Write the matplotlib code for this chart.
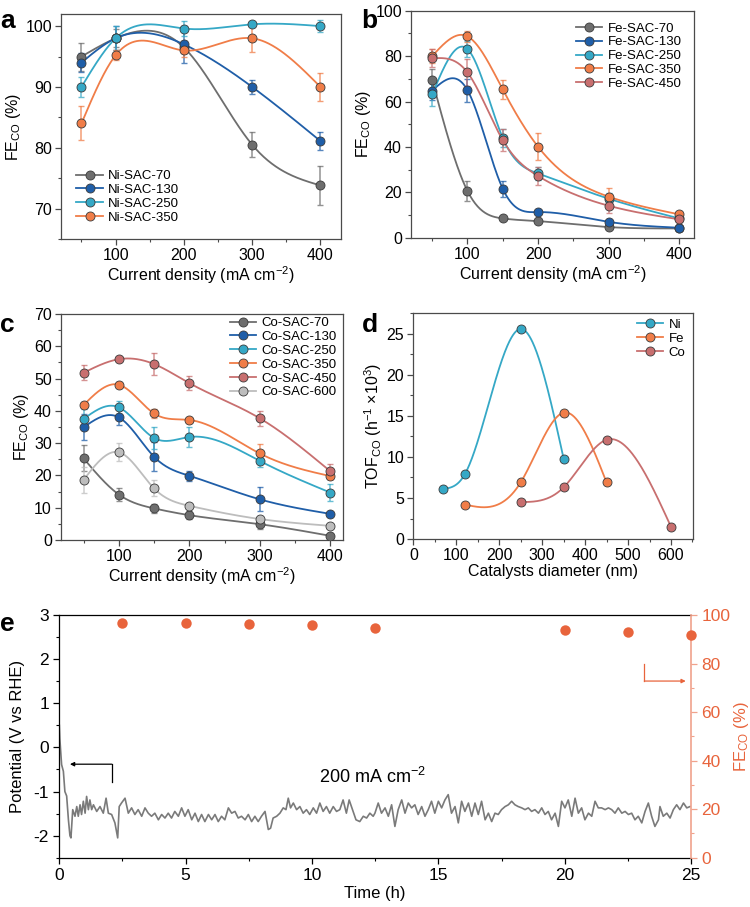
import numpy as np
import matplotlib
matplotlib.use('Agg')
import matplotlib.pyplot as plt
from matplotlib.lines import Line2D
from matplotlib.ticker import MultipleLocator

plt.rcParams['font.family'] = ['Liberation Sans', 'DejaVu Sans']
plt.rcParams['mathtext.fontset'] = 'custom'
plt.rcParams['mathtext.rm'] = 'Liberation Sans'
plt.rcParams['mathtext.it'] = 'Liberation Sans:italic'
plt.rcParams['axes.unicode_minus'] = False
plt.rcParams['font.size'] = 10

# ---------------- data ----------------
j_ni = [50, 100, 200, 300, 400]
ni_labels = ['Ni-SAC-70', 'Ni-SAC-130', 'Ni-SAC-250', 'Ni-SAC-350']
ni_fe = [[95.0, 98.0, 96.5, 80.5, 73.8],
         [94.0, 98.0, 97.0, 90.0, 81.1],
         [90.0, 98.0, 99.6, 100.3, 100.0],
         [84.0, 95.2, 96.0, 98.0, 90.0]]
ni_err = [[2.3, 1.5, 1.0, 2.1, 3.2],
          [1.5, 2.0, 3.0, 1.2, 1.5],
          [1.6, 2.0, 1.2, 0.3, 1.0],
          [2.8, 0.8, 1.0, 2.3, 2.3]]

j_fe = [50, 100, 150, 200, 300, 400]
fe_labels = ['Fe-SAC-70', 'Fe-SAC-130', 'Fe-SAC-250', 'Fe-SAC-350', 'Fe-SAC-450']
fe_fe = [[69.5, 20.6, 8.5, 7.3, 4.7, 4.1],
         [64.8, 65.0, 21.6, 11.3, 7.0, 4.4],
         [63.1, 83.1, 44.0, 28.3, 17.2, 8.5],
         [80.0, 88.7, 65.3, 40.1, 18.1, 10.3],
         [79.0, 72.8, 43.0, 27.2, 14.1, 8.1]]
fe_err = [[5.0, 4.5, 0.6, 0.6, 0.5, 0.5],
          [4.0, 5.0, 3.5, 1.0, 0.8, 0.5],
          [5.0, 3.5, 4.0, 3.0, 2.5, 1.0],
          [3.0, 2.5, 4.0, 6.0, 4.0, 1.0],
          [4.0, 6.0, 5.0, 4.0, 3.0, 1.0]]

j_co = [50, 100, 150, 200, 300, 400]
co_labels = ['Co-SAC-70', 'Co-SAC-130', 'Co-SAC-250', 'Co-SAC-350', 'Co-SAC-450', 'Co-SAC-600']
co_fe = [[25.3, 14.1, 9.8, 7.7, 4.9, 1.3],
         [34.9, 38.0, 25.8, 19.9, 12.6, 8.1],
         [37.5, 41.1, 31.6, 31.9, 24.5, 14.7],
         [41.8, 48.1, 39.2, 37.2, 26.8, 19.8],
         [51.8, 56.0, 54.5, 48.6, 37.7, 21.3],
         [18.6, 27.2, 16.0, 10.6, 6.5, 4.4]]
co_err = [[4.0, 2.0, 1.5, 1.2, 1.5, 0.8],
          [4.0, 2.5, 4.5, 1.5, 3.7, 0.6],
          [3.0, 2.0, 3.5, 3.2, 2.0, 2.7],
          [0.8, 0.7, 1.5, 0.5, 2.8, 1.0],
          [2.3, 0.5, 3.5, 2.2, 2.3, 2.3],
          [3.9, 2.8, 2.5, 1.0, 0.8, 0.5]]

d_ni = [70, 120, 250, 350]
tof_ni = [6.1, 7.9, 25.6, 9.8]
d_fe = [120, 250, 350, 450]
tof_fe = [4.2, 6.9, 15.4, 6.9]
d_co = [250, 350, 450, 600]
tof_co = [4.5, 6.3, 12.1, 1.5]

t_fe = [2.5, 5, 7.5, 10, 12.5, 20, 22.5, 25]
fe_stab = [96.8, 96.8, 96.4, 95.9, 94.8, 93.9, 93.0, 91.9]

t_pot = [0.0, 0.02, 0.09, 0.16, 0.22, 0.29, 0.36, 0.42, 0.46, 0.53, 0.62, 0.69, 0.75,
         0.82, 0.88, 0.95, 1.02, 1.08, 1.15, 1.21, 1.28, 1.35, 1.48, 1.61, 1.74, 1.85,
         1.94, 2.07, 2.2, 2.31, 2.37, 2.46, 2.6, 2.73, 2.86, 2.99, 3.12, 3.26, 3.39,
         3.52, 3.65, 3.78, 3.92, 4.05, 4.18, 4.31, 4.44, 4.57, 4.71, 4.84, 4.97, 5.1,
         5.24, 5.37, 5.5, 5.63, 5.76, 5.9, 6.03, 6.16, 6.29, 6.42, 6.55, 6.69, 6.82,
         6.95, 7.08, 7.21, 7.35, 7.48, 7.61, 7.74, 7.87, 8.0, 8.14, 8.27, 8.36, 8.46,
         8.6, 8.73, 8.86, 8.97, 9.06, 9.15, 9.26, 9.39, 9.52, 9.65, 9.78, 9.91, 10.05,
         10.18, 10.31, 10.44, 10.57, 10.7, 10.84, 10.97, 11.1, 11.23, 11.36, 11.47,
         11.6, 11.74, 11.89, 12.03, 12.16, 12.29, 12.42, 12.49, 12.62, 12.75, 12.89,
         13.02, 13.15, 13.28, 13.41, 13.55, 13.68, 13.81, 13.94, 14.07, 14.2, 14.34,
         14.47, 14.6, 14.73, 14.86, 15.0, 15.13, 15.26, 15.39, 15.52, 15.66, 15.79,
         15.92, 16.05, 16.19, 16.32, 16.45, 16.58, 16.71, 16.85, 16.98, 17.11, 17.24,
         17.37, 17.5, 17.64, 17.77, 17.9, 18.03, 18.16, 18.3, 18.43, 18.56, 18.69,
         18.82, 18.96, 19.09, 19.22, 19.35, 19.48, 19.62, 19.75, 19.88, 20.01, 20.14,
         20.28, 20.41, 20.54, 20.67, 20.8, 20.94, 21.07, 21.2, 21.33, 21.46, 21.6,
         21.73, 21.86, 21.99, 22.12, 22.26, 22.39, 22.52, 22.65, 22.78, 22.91, 23.05,
         23.18, 23.31, 23.44, 23.57, 23.71, 23.77, 23.9, 24.04, 24.17, 24.3, 24.43,
         24.56, 24.7, 24.83, 24.96]
pot = [0.5, 0.2, -0.39, -0.54, -1.0, -1.1, -1.64, -2.0, -2.05, -1.41, -1.56, -1.34, -1.56,
       -1.3, -1.52, -1.22, -1.49, -1.11, -1.41, -1.19, -1.41, -1.3, -1.45, -1.34, -1.49,
       -1.15, -1.49, -1.52, -1.71, -2.05, -1.34, -1.26, -1.15, -1.49, -1.37, -1.52, -1.41,
       -1.56, -1.37, -1.49, -1.56, -1.49, -1.64, -1.52, -1.6, -1.49, -1.6, -1.45, -1.56,
       -1.37, -1.56, -1.41, -1.64, -1.49, -1.68, -1.52, -1.68, -1.52, -1.64, -1.52, -1.68,
       -1.56, -1.64, -1.37, -1.49, -1.45, -1.6, -1.56, -1.64, -1.52, -1.68, -1.56, -1.68,
       -1.56, -1.45, -1.86, -1.83, -1.6, -1.56, -1.49, -1.37, -1.41, -1.15, -1.37, -1.26,
       -1.41, -1.34, -1.49, -1.41, -1.52, -1.37, -1.49, -1.26, -1.45, -1.34, -1.49, -1.34,
       -1.45, -1.41, -1.19, -1.49, -1.19, -1.41, -1.64, -1.68, -1.56, -1.6, -1.49, -1.56,
       -1.49, -1.26, -1.49, -1.37, -1.56, -1.3, -1.79, -1.41, -1.19, -1.49, -1.26, -1.37,
       -1.3, -1.52, -1.34, -1.56, -1.41, -1.22, -1.49, -1.22, -1.37, -1.19, -1.07, -1.49,
       -1.34, -1.71, -1.22, -1.45, -1.26, -1.56, -1.26, -1.52, -1.22, -1.64, -1.49, -1.68,
       -1.49, -1.52, -1.41, -1.34, -1.3, -1.22, -1.3, -1.34, -1.37, -1.41, -1.37, -1.45,
       -1.41, -1.49, -1.37, -1.52, -1.45, -1.64, -1.49, -1.79, -1.22, -1.37, -1.19, -1.56,
       -1.15, -1.49, -1.37, -1.64, -1.49, -1.56, -1.22, -1.37, -1.37, -1.41, -1.37, -1.41,
       -1.49, -1.37, -1.49, -1.45, -1.52, -1.49, -1.64, -1.56, -1.71, -1.45, -1.26, -1.56,
       -1.79, -1.64, -1.34, -1.56, -1.49, -1.6, -1.41, -1.3, -1.41, -1.26, -1.37, -1.34]

# ---------------- style ----------------
c_gray = '#6e6e6e'
c_blue = '#1f5ea8'
c_cyan = '#35a8c6'
c_orange = '#f07d48'
c_pink = '#c86f6f'
c_lgray = '#bdbdbd'
c_fe = '#e8643c'
edge = '#3a3a3a'
frame = '#4a4a4a'


def smooth(x, y, num=300):
    # natural cubic spline through the points (curve style of the original)
    x = np.asarray(x, float)
    y = np.asarray(y, float)
    n = len(x)
    h = np.diff(x)
    A = np.zeros((n, n))
    r = np.zeros(n)
    A[0, 0] = A[-1, -1] = 1
    for i in range(1, n - 1):
        A[i, i - 1] = h[i - 1]
        A[i, i] = 2 * (h[i - 1] + h[i])
        A[i, i + 1] = h[i]
        r[i] = 6 * ((y[i + 1] - y[i]) / h[i] - (y[i] - y[i - 1]) / h[i - 1])
    M = np.linalg.solve(A, r)
    xs = np.linspace(x[0], x[-1], num)
    k = np.clip(np.searchsorted(x, xs) - 1, 0, n - 2)
    hh = x[k + 1] - x[k]
    a = (x[k + 1] - xs) / hh
    b = (xs - x[k]) / hh
    ys = a * y[k] + b * y[k + 1] + ((a ** 3 - a) * M[k] + (b ** 3 - b) * M[k + 1]) * hh ** 2 / 6
    return xs, ys


def style_box(ax):
    for s in ax.spines.values():
        s.set_color(frame)
        s.set_linewidth(0.9)
    ax.tick_params(which='both', direction='out', color=frame, labelsize=11.5,
                   top=False, right=False, pad=2.5)
    ax.tick_params(which='major', length=4, width=0.9)
    ax.tick_params(which='minor', length=2.2, width=0.8)


def series(ax, x, y, err, color, label):
    xs, ys = smooth(x, y)
    ax.plot(xs, ys, color=color, lw=1.3, zorder=2)
    if err is not None:
        ax.errorbar(x, y, yerr=err, fmt='none', ecolor=color, alpha=0.75,
                    elinewidth=1.1, capsize=2.3, capthick=1.0, zorder=3)
    ax.plot(x, y, 'o', ms=6.5, mfc=color, mec=edge, mew=0.6, zorder=4)
    return Line2D([], [], color=color, lw=1.3, marker='o', ms=6.5, mfc=color,
                  mec=edge, mew=0.6, label=label)


def add_legend(ax, handles, **kw):
    ax.legend(handles=handles, frameon=False, fontsize=9.5, handlelength=2.0,
              handletextpad=0.4, labelspacing=0.12, borderaxespad=0, **kw)


fig = plt.figure(figsize=(7.5, 9.07), dpi=100)

# ---------------- a ----------------
ax = fig.add_axes([0.0813, 0.7365, 0.3733, 0.2481])
cols = [c_gray, c_blue, c_cyan, c_orange]
hs = [series(ax, j_ni, ni_fe[i], ni_err[i], cols[i], ni_labels[i]) for i in range(4)]
ax.set_xlim(20, 430)
ax.set_ylim(65, 102)
ax.xaxis.set_major_locator(MultipleLocator(100))
ax.xaxis.set_minor_locator(MultipleLocator(50))
ax.yaxis.set_major_locator(MultipleLocator(10))
ax.yaxis.set_minor_locator(MultipleLocator(5))
style_box(ax)
ax.set_xlabel('Current density (mA cm$^{-2}$)', fontsize=11.5, labelpad=1)
ax.set_ylabel('FE$_{\\rm CO}$ (%)', fontsize=11.5, labelpad=2)
add_legend(ax, hs, loc='lower left', bbox_to_anchor=(0.036, 0.045))

# ---------------- b ----------------
ax = fig.add_axes([0.548, 0.7379, 0.3773, 0.2503])
cols = [c_gray, c_blue, c_cyan, c_orange, c_pink]
hs = [series(ax, j_fe, fe_fe[i], fe_err[i], cols[i], fe_labels[i]) for i in range(5)]
ax.set_xlim(20, 421)
ax.set_ylim(0, 100)
ax.xaxis.set_major_locator(MultipleLocator(100))
ax.xaxis.set_minor_locator(MultipleLocator(50))
ax.yaxis.set_major_locator(MultipleLocator(20))
ax.yaxis.set_minor_locator(MultipleLocator(10))
style_box(ax)
ax.set_xlabel('Current density (mA cm$^{-2}$)', fontsize=11.5, labelpad=1)
ax.set_ylabel('FE$_{\\rm CO}$ (%)', fontsize=11.5, labelpad=2)
add_legend(ax, hs, loc='upper right', bbox_to_anchor=(0.975, 0.972))

# ---------------- c ----------------
ax = fig.add_axes([0.0813, 0.4046, 0.376, 0.2492])
cols = [c_gray, c_blue, c_cyan, c_orange, c_pink, c_lgray]
hs = [series(ax, j_co, co_fe[i], co_err[i], cols[i], co_labels[i]) for i in range(6)]
ax.set_xlim(18, 418)
ax.set_ylim(0, 70)
ax.xaxis.set_major_locator(MultipleLocator(100))
ax.xaxis.set_minor_locator(MultipleLocator(50))
ax.yaxis.set_major_locator(MultipleLocator(10))
ax.yaxis.set_minor_locator(MultipleLocator(5))
style_box(ax)
ax.set_xlabel('Current density (mA cm$^{-2}$)', fontsize=11.5, labelpad=1)
ax.set_ylabel('FE$_{\\rm CO}$ (%)', fontsize=11.5, labelpad=2)
add_legend(ax, hs, loc='upper right', bbox_to_anchor=(0.996, 1.01))

# ---------------- d ----------------
ax = fig.add_axes([0.5511, 0.4057, 0.3733, 0.2488])
hs = [series(ax, d_ni, tof_ni, None, c_cyan, 'Ni'),
      series(ax, d_fe, tof_fe, None, c_orange, 'Fe'),
      series(ax, d_co, tof_co, None, c_pink, 'Co')]
ax.set_xlim(0, 652)
ax.set_ylim(0, 27.5)
ax.xaxis.set_major_locator(MultipleLocator(100))
ax.xaxis.set_minor_locator(MultipleLocator(50))
ax.yaxis.set_major_locator(MultipleLocator(5))
ax.yaxis.set_minor_locator(MultipleLocator(2.5))
style_box(ax)
ax.set_xlabel('Catalysts diameter (nm)', fontsize=11.5, labelpad=1)
ax.set_ylabel('TOF$_{\\rm CO}$ (h$^{-1}$ \u00d710$^{3}$)', fontsize=11.5, labelpad=2)
add_legend(ax, hs, loc='upper right', bbox_to_anchor=(0.99, 1.0))

# ---------------- e ----------------
ax = fig.add_axes([0.0791, 0.0543, 0.8423, 0.2676])
ax.plot(t_pot, pot, color='#7a7a7a', lw=1.2)
ax.set_xlim(0, 25)
ax.set_ylim(-2.5, 3)
ax.xaxis.set_major_locator(MultipleLocator(5))
ax.xaxis.set_minor_locator(MultipleLocator(2.5))
ax.yaxis.set_major_locator(MultipleLocator(1))
ax.yaxis.set_minor_locator(MultipleLocator(0.5))
for s in ['left', 'bottom', 'top']:
    ax.spines[s].set_color('black')
    ax.spines[s].set_linewidth(0.9)
ax.spines['right'].set_visible(False)
ax.tick_params(which='both', direction='out', labelsize=12.5, top=False, pad=3)
ax.tick_params(which='major', length=4.5, width=0.9)
ax.tick_params(which='minor', length=2.5, width=0.8)
ax.set_xlabel('Time (h)', fontsize=12, labelpad=2)
ax.set_ylabel('Potential (V vs RHE)', fontsize=12, labelpad=6)
ax.text(12.4, -0.66, '200 mA cm$^{-2}$', fontsize=13, ha='center', va='center')
ax.plot([2.07, 2.07], [-0.79, -0.38], color='black', lw=0.9)
ax.annotate('', xy=(0.42, -0.38), xytext=(2.07, -0.38),
            arrowprops=dict(arrowstyle='-|>', color='black', lw=0.9,
                            mutation_scale=6, shrinkA=0, shrinkB=0))

ax2 = ax.twinx()
ax2.plot(t_fe, fe_stab, 'o', ms=7.5, color=c_fe, mec='none', clip_on=False, zorder=5)
ax2.set_ylim(0, 100)
ax2.yaxis.set_major_locator(MultipleLocator(20))
ax2.yaxis.set_minor_locator(MultipleLocator(10))
for s in ['left', 'bottom', 'top']:
    ax2.spines[s].set_visible(False)
ax2.spines['right'].set_color('#f0a28c')
ax2.spines['right'].set_linewidth(1.2)
ax2.tick_params(which='both', direction='out', colors='#f0a28c', labelcolor=c_fe,
                labelsize=12.5, pad=3)
ax2.tick_params(which='major', length=4.5, width=0.9)
ax2.tick_params(which='minor', length=2.5, width=0.8)
ax2.set_ylabel('FE$_{\\rm CO}$ (%)', fontsize=12, color=c_fe, labelpad=1)
ax2.plot([23.15, 23.15], [80, 72.8], color=c_fe, lw=0.9)
ax2.annotate('', xy=(24.79, 72.8), xytext=(23.15, 72.8),
             arrowprops=dict(arrowstyle='-|>', color=c_fe, lw=0.9,
                             mutation_scale=6, shrinkA=0, shrinkB=0))

# panel letters
for lbl, (x, y) in zip('abcde', [(0.0, 0.99), (0.482, 0.99), (0.0, 0.655),
                                 (0.482, 0.655), (0.0, 0.325)]):
    fig.text(x, y, lbl, fontsize=19, fontweight='bold', va='top', ha='left')

fig.savefig('out.png', dpi=100)
